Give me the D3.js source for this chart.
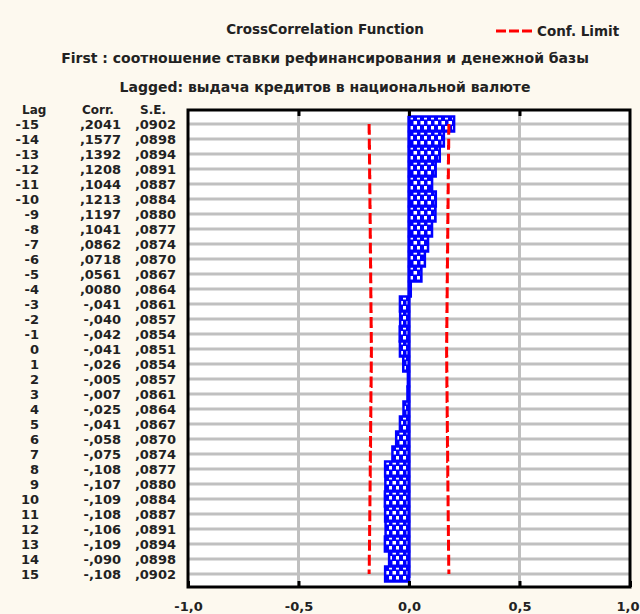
<!DOCTYPE html>
<html>
<head>
<meta charset="utf-8">
<script src="https://cdn.jsdelivr.net/npm/d3@7"></script>
<style>
body { margin: 0; background: #fdf9ef; }
text { font-family: "DejaVu Sans", sans-serif; font-weight: bold; fill: #222; }
</style>
</head>
<body>
<div class="chart"></div>
<script>
// data
var lags = [-15, -14, -13, -12, -11, -10, -9, -8, -7, -6, -5, -4, -3, -2, -1, 0,
  1, 2, 3, 4, 5, 6, 7, 8, 9, 10, 11, 12, 13, 14, 15];
var corr = [0.2041, 0.1577, 0.1392, 0.1208, 0.1044, 0.1213, 0.1197, 0.1041, 0.0862, 0.0718, 0.0561, 0.0080,
  -0.041, -0.040, -0.042, -0.041, -0.026, -0.005, -0.007, -0.025, -0.041, -0.058, -0.075,
  -0.108, -0.107, -0.109, -0.108, -0.106, -0.109, -0.090, -0.108];
var stdErr = [0.0902, 0.0898, 0.0894, 0.0891, 0.0887, 0.0884, 0.0880, 0.0877, 0.0874, 0.0870, 0.0867, 0.0864,
  0.0861, 0.0857, 0.0854, 0.0851, 0.0854, 0.0857, 0.0861, 0.0864, 0.0867, 0.0870, 0.0874,
  0.0877, 0.0880, 0.0884, 0.0887, 0.0891, 0.0894, 0.0898, 0.0902];
var xTicks = [-1, -0.5, 0, 0.5, 1];
var xTickLabels = ["-1,0", "-0,5", "0,0", "0,5", "1,0"];
var gridX = [-0.5, 0, 0.5];
var title = "CrossCorrelation Function";
var subTitles = ["First : соотношение ставки рефинансирования и денежной базы",
  "Lagged: выдача кредитов в национальной валюте"];
var columnHeads = ["Lag", "Corr.", "S.E."];
var legendLabel = "Conf. Limit";

var svgWidth = 640;
var svgHeight = 614;
var frame = { left: 188, right: 630, top: 110, bottom: 587 };
var rowH = 15;

var svg = d3.select(".chart")
  .append("svg")
  .attr("width", svgWidth)
  .attr("height", svgHeight)
  .style("display", "block");

var x = d3.scaleLinear().domain([-1, 1]).range([frame.left, frame.right]);
var y = d3.scaleLinear().domain([-15, 15]).range([124, 574]);

// checkered fill of the bars
var pat = svg.append("defs").append("pattern")
  .attr("id", "checks")
  .attr("patternUnits", "userSpaceOnUse")
  .attr("width", 7)
  .attr("height", 10);
pat.append("rect").attr("width", 7).attr("height", 10).attr("fill", "#0000ff");
pat.append("rect").attr("x", 0.5).attr("y", 1).attr("width", 3.5).attr("height", 3.5).attr("fill", "#fff");
pat.append("rect").attr("x", 4).attr("y", 6).attr("width", 3).attr("height", 3.5).attr("fill", "#fff");

// titles
svg.append("text").attr("x", 325).attr("y", 34).attr("text-anchor", "middle")
  .style("font-size", "13.5px").text(title);
svg.selectAll(".sub").data(subTitles).enter().append("text")
  .attr("class", "sub")
  .attr("x", 325)
  .attr("y", function(d, i) { return 63 + i * 29; })
  .attr("text-anchor", "middle")
  .style("font-size", "14px")
  .text(function(d) { return d; });

// legend
svg.append("line")
  .attr("x1", 496).attr("x2", 532).attr("y1", 31).attr("y2", 31)
  .attr("stroke", "#ff0000").attr("stroke-width", 3).attr("stroke-dasharray", "10,3");
svg.append("text").attr("x", 537).attr("y", 36).style("font-size", "13.5px").text(legendLabel);

// plot area
svg.append("rect")
  .attr("x", frame.left).attr("y", frame.top)
  .attr("width", frame.right - frame.left).attr("height", frame.bottom - frame.top)
  .attr("fill", "#fff");

svg.append("g").selectAll("line").data(lags).enter().append("line")
  .attr("x1", frame.left).attr("x2", frame.right)
  .attr("y1", function(d) { return y(d); }).attr("y2", function(d) { return y(d); })
  .attr("stroke", "#c0c0c0").attr("stroke-width", 3);

svg.append("g").selectAll("line").data(gridX).enter().append("line")
  .attr("x1", function(d) { return x(d); }).attr("x2", function(d) { return x(d); })
  .attr("y1", frame.top).attr("y2", frame.bottom)
  .attr("stroke", "#c0c0c0").attr("stroke-width", 3);

// bars
svg.append("g").selectAll("rect").data(lags).enter().append("rect")
  .attr("x", function(d, i) { return Math.min(x(0), x(corr[i])); })
  .attr("width", function(d, i) { return Math.abs(x(corr[i]) - x(0)); })
  .attr("y", function(d) { return y(d) - rowH / 2; })
  .attr("height", rowH)
  .attr("fill", "url(#checks)")
  .attr("stroke", "#0000ff")
  .attr("stroke-width", 2.5);

svg.append("line")
  .attr("x1", x(0)).attr("x2", x(0))
  .attr("y1", y(-15) - 8).attr("y2", y(15) + 4)
  .attr("stroke", "#0000ff").attr("stroke-width", 3);

// confidence limits (+/- 2 S.E.)
function limitPath(sign) {
  var pts = [];
  lags.forEach(function(d, i) {
    var xv = x(sign * 2 * stdErr[i]);
    pts.push([xv, i === 0 ? y(d) : y(d) - rowH / 2]);
    pts.push([xv, i === lags.length - 1 ? y(d) : y(d) + rowH / 2]);
  });
  return d3.line()(pts);
}
[-1, 1].forEach(function(s) {
  svg.append("path")
    .attr("d", limitPath(s))
    .attr("fill", "none")
    .attr("stroke", "#ff0000")
    .attr("stroke-width", 3)
    .attr("stroke-dasharray", "11,4");
});

// axes
var bottomAxis = d3.axisBottom(x)
  .tickValues(xTicks)
  .tickFormat(function(d, i) { return xTickLabels[i]; })
  .tickSizeInner(-6).tickSizeOuter(0).tickPadding(15);
var gb = svg.append("g").attr("transform", "translate(0," + frame.bottom + ")").call(bottomAxis);
gb.select(".domain").remove();
gb.selectAll("line").attr("stroke", "#000").attr("stroke-width", 3);
gb.selectAll("text").style("font-size", "13px").style("font-family", "DejaVu Sans").attr("fill", "#222");
// last label sits against the window edge
gb.selectAll(".tick").filter(function(d) { return d === 1; }).select("text")
  .attr("text-anchor", "end").attr("x", 9);

var topAxis = d3.axisTop(x).tickValues(gridX).tickFormat("").tickSizeInner(-6).tickSizeOuter(0);
var gt = svg.append("g").attr("transform", "translate(0," + frame.top + ")").call(topAxis);
gt.select(".domain").remove();
gt.selectAll("line").attr("stroke", "#000").attr("stroke-width", 3);

svg.append("rect")
  .attr("x", frame.left).attr("y", frame.top)
  .attr("width", frame.right - frame.left).attr("height", frame.bottom - frame.top)
  .attr("fill", "none").attr("stroke", "#000").attr("stroke-width", 3);

// table at the left
function fmtCorr(v) {
  if (v < 0) return "-" + d3.format(".3f")(-v).replace("0.", ",");
  return d3.format(".4f")(v).replace("0.", ",");
}
function fmtSe(v) { return d3.format(".4f")(v).replace("0.", ","); }

var headX = [22, 82, 140];
svg.selectAll(".head").data(columnHeads).enter().append("text")
  .attr("class", "head")
  .attr("x", function(d, i) { return headX[i]; })
  .attr("y", 114)
  .style("font-size", "12px")
  .text(function(d) { return d; });

var rows = svg.append("g").selectAll("g").data(lags).enter().append("g")
  .attr("transform", function(d) { return "translate(0," + (y(d) + 5) + ")"; })
  .style("font-size", "13px");
rows.append("text").attr("x", 39).attr("text-anchor", "end").text(function(d) { return d; });
rows.append("text").attr("x", 121).attr("text-anchor", "end").text(function(d, i) { return fmtCorr(corr[i]); });
rows.append("text").attr("x", 176).attr("text-anchor", "end").text(function(d, i) { return fmtSe(stdErr[i]); });
</script>
</body>
</html>
